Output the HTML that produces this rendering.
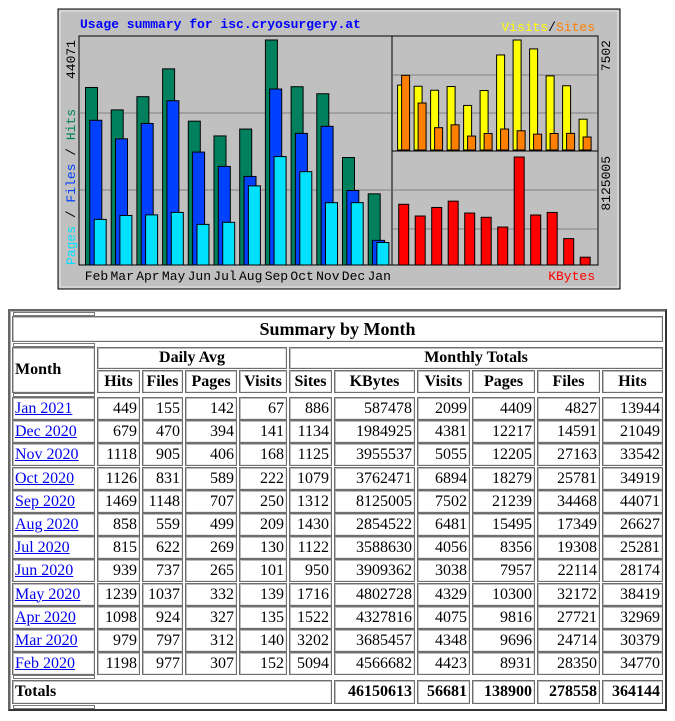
<!DOCTYPE html>
<html><head><meta charset="utf-8">
<style>
body{margin:0;width:675px;height:721px;background:#fff;position:relative;overflow:hidden;font-family:"Liberation Serif",serif;}
#chart{position:absolute;left:0;top:0;}
.c{position:absolute;box-sizing:border-box;border:1px solid #6e6e6e;box-shadow:inset 1px 1px 0 #bdbdbd,inset -1px -1px 0 #e8e8e8;font-size:16px;line-height:20px;white-space:nowrap;overflow:hidden;}
.r{text-align:right;padding-right:2px;}
.h{font-weight:bold;text-align:center;}
.l{text-align:left;padding-left:2px;}
.sp{position:absolute;width:82px;height:4px;box-sizing:border-box;border:1px solid #777;background:#fff;}
a{color:#0000ee;text-decoration:underline;}
#tbl{position:absolute;left:8px;top:309px;width:659px;height:402px;box-sizing:border-box;border:2px solid #666;border-right-color:#333;border-bottom-color:#333;box-shadow:inset 1px 1px 0 #aaa;}
</style></head><body>
<svg id="chart" width="675" height="300" xmlns="http://www.w3.org/2000/svg" font-family="Liberation Mono, monospace">
  <rect x="58" y="9" width="562" height="280" fill="#c0c0c0" stroke="#000" stroke-width="1"/>
  <rect x="60" y="11" width="558" height="276" fill="none" stroke="#e8e8e8" stroke-width="1"/>
  <rect x="79" y="36" width="313" height="229" fill="#c0c0c0" stroke="#000"/>
  <rect x="392" y="36" width="206" height="115" fill="#c0c0c0" stroke="#000"/>
  <rect x="392" y="151" width="206" height="114" fill="#c0c0c0" stroke="#000"/>
  <g stroke="#808080" stroke-width="1">
    <line x1="80" y1="113" x2="391" y2="113"/><line x1="80" y1="190" x2="391" y2="190"/>
    <line x1="393" y1="75" x2="597" y2="75"/><line x1="393" y1="113" x2="597" y2="113"/>
    <line x1="393" y1="190" x2="597" y2="190"/><line x1="393" y1="229" x2="597" y2="229"/>
  </g>
  <text x="80" y="28" font-size="13" font-weight="bold" fill="#0000ff">Usage summary for isc.cryosurgery.at</text>
  <text x="595" y="31" font-size="13" text-anchor="end"><tspan fill="#ffff00">Visits</tspan><tspan fill="#000">/</tspan><tspan fill="#ff8000">Sites</tspan></text>
  <text x="595" y="280" font-size="13" text-anchor="end" fill="#ff0000">KBytes</text>
  <text transform="translate(75,40) rotate(-90)" font-size="13" text-anchor="end" fill="#000">44071</text>
  <text transform="translate(75,265) rotate(-90)" font-size="13"><tspan fill="#00e0ff">Pages</tspan><tspan fill="#000"> / </tspan><tspan fill="#0040ff">Files</tspan><tspan fill="#000"> / </tspan><tspan fill="#00805c">Hits</tspan></text>
  <text transform="translate(610,40) rotate(-90)" font-size="13" text-anchor="end">7502</text>
  <text transform="translate(610,156) rotate(-90)" font-size="13" text-anchor="end">8125005</text>
  <g id="bars"></g>
</svg>
<div id="tbl"></div>
<script>
const months=["Feb","Mar","Apr","May","Jun","Jul","Aug","Sep","Oct","Nov","Dec","Jan"];
const hits=[34770,30379,32969,38419,28174,25281,26627,44071,34919,33542,21049,13944];
const files=[28350,24714,27721,32172,22114,19308,17349,34468,25781,27163,14591,4827];
const pages=[8931,9696,9816,10300,7957,8356,15495,21239,18279,12205,12217,4409];
const visits=[4423,4348,4075,4329,3038,4056,6481,7502,6894,5055,4381,2099];
const sites=[5094,3202,1522,1716,950,1122,1430,1312,1079,1125,1134,886];
const kbytes=[4566682,3685457,4327816,4802728,3909362,3588630,2854522,8125005,3762471,3955537,1984925,587478];
const NS="http://www.w3.org/2000/svg";
const g=document.getElementById('bars');
const hitsMax=Math.max(...hits), visMax=Math.max(...visits), kbMax=Math.max(...kbytes);
const yMain=v=>265-v/hitsMax*225;
const yVis=v=>150-v/visMax*110;
const yKb=v=>265-v/kbMax*108;
function bar(x,w,y0,y1,fill,name){
  const r=document.createElementNS(NS,'rect');
  r.setAttribute('x',x);r.setAttribute('y',y1);r.setAttribute('width',w);r.setAttribute('height',Math.max(0,y0-y1));
  r.setAttribute('fill',fill);r.setAttribute('stroke','#000');r.setAttribute('stroke-width','1');
  
  
  g.appendChild(r);
}
months.forEach((m,i)=>{
  const x=85.5+25.7*i;
  bar(x,12,265,yMain(hits[i]),'#00805c','hits-bar-'+m.toLowerCase());
  bar(x+4.3,12,265,yMain(files[i]),'#0040ff','files-bar-'+m.toLowerCase());
  bar(x+8.7,12,265,yMain(pages[i]),'#00e0ff','pages-bar-'+m.toLowerCase());
  const t=document.createElementNS(NS,'text');
  t.setAttribute('x',x+11);t.setAttribute('y',280);t.setAttribute('font-size','13');t.setAttribute('text-anchor','middle');
  t.textContent=m;
  
  
  g.appendChild(t);
  const vx=397.6+16.5*i;
  bar(vx,8,150,yVis(visits[i]),'#ffff00','visits-bar-'+m.toLowerCase());
  bar(vx+4,8,150,yVis(sites[i]),'#ff8000','sites-bar-'+m.toLowerCase());
  bar(398.7+16.5*i,10,265,yKb(kbytes[i]),'#ff0000','kbytes-bar-'+m.toLowerCase());
});

// table
const tbl=document.getElementById('tbl');
const OX=10, OY=311;
const cols=[[12,95],[97,140],[142,183],[185,237],[239,287],[289,332],[334,415],[417,470],[472,535],[537,600],[602,663]];
function cell(x0,x1,y0,y1,html,cls,name,inter){
  const d=document.createElement('div');
  d.className='c '+cls;
  d.style.left=(x0-OX)+'px';d.style.top=(y0-OY)+'px';d.style.width=(x1-x0)+'px';d.style.height=(y1-y0)+'px';
  d.style.lineHeight=(y1-y0-2)+'px';
  d.innerHTML=html;
  
  
  tbl.appendChild(d);
}
function spacer(y){
  const s=document.createElement('div');s.className='sp';s.style.top=(y-OY)+'px';s.style.left=(13-OX)+'px';
  
  
  tbl.appendChild(s);
}
cell(12,663,316,342,'Summary by Month','h','table-title',false);
tbl.lastChild.style.fontSize='18px';
spacer(312);spacer(343);spacer(393);spacer(675);spacer(705);
cell(12,95,347,393,'Month','l','month-header',false);tbl.lastChild.style.fontWeight='bold';
cell(97,287,347,369,'Daily Avg','h','daily-avg-header',false);
cell(289,663,347,369,'Monthly Totals','h','monthly-totals-header',false);
const heads=["Hits","Files","Pages","Visits","Sites","KBytes","Visits","Pages","Files","Hits"];
heads.forEach((h,j)=>cell(cols[j+1][0],cols[j+1][1],370,393,h,'h','col-header-'+h.toLowerCase(),false));
const rowsLbl=["Jan 2021","Dec 2020","Nov 2020","Oct 2020","Sep 2020","Aug 2020","Jul 2020","Jun 2020","May 2020","Apr 2020","Mar 2020","Feb 2020"];
const rows=[
[449,155,142,67,886,587478,2099,4409,4827,13944],
[679,470,394,141,1134,1984925,4381,12217,14591,21049],
[1118,905,406,168,1125,3955537,5055,12205,27163,33542],
[1126,831,589,222,1079,3762471,6894,18279,25781,34919],
[1469,1148,707,250,1312,8125005,7502,21239,34468,44071],
[858,559,499,209,1430,2854522,6481,15495,17349,26627],
[815,622,269,130,1122,3588630,4056,8356,19308,25281],
[939,737,265,101,950,3909362,3038,7957,22114,28174],
[1239,1037,332,139,1716,4802728,4329,10300,32172,38419],
[1098,924,327,135,1522,4327816,4075,9816,27721,32969],
[979,797,312,140,3202,3685457,4348,9696,24714,30379],
[1198,977,307,152,5094,4566682,4423,8931,28350,34770]];
rows.forEach((r,i)=>{
  const y0=397+23.2*i, y1=y0+23;
  cell(12,95,y0,y1,'<a href="#">'+rowsLbl[i]+'</a>','l','month-link-'+rowsLbl[i].toLowerCase().replace(' ','-'),true);
  r.forEach((v,j)=>cell(cols[j+1][0],cols[j+1][1],y0,y1,v,'r','value-cell',false));
});
cell(12,332,680,704,'Totals','l','totals-label',false);tbl.lastChild.style.fontWeight='bold';
[46150613,56681,138900,278558,364144].forEach((v,j)=>{cell(cols[j+6][0],cols[j+6][1],680,704,v,'r','total-cell',false);tbl.lastChild.style.fontWeight='bold';});
</script>
</body></html>
